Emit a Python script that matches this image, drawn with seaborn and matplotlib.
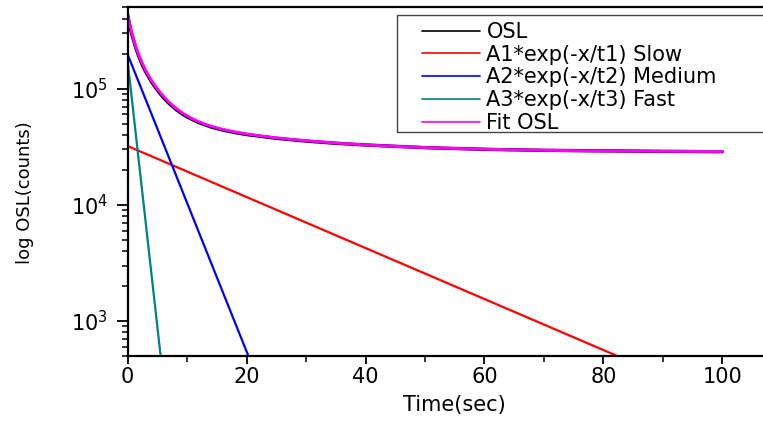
import numpy as np
import pandas as pd
import matplotlib
matplotlib.use("Agg")
import matplotlib.pyplot as plt
from matplotlib.lines import Line2D
from matplotlib.patches import Rectangle
from matplotlib.ticker import MultipleLocator, LogLocator, NullFormatter
import seaborn as sns

# Measured OSL decay curve (time in s, counts)
osl_time = [0, 0.25, 0.5, 0.75, 1, 1.25, 1.5, 2, 2.5, 3, 3.5, 4, 5, 6, 7, 8, 9,
            10, 12, 14, 16, 18, 20, 25, 30, 35, 40, 50, 60, 70, 80, 90, 100]
osl_counts = [430000, 368000, 322000, 286000, 258000, 233000, 213000, 182000,
              158000, 140000, 126000, 114000, 96500, 83500, 74000, 66800, 61200,
              56900, 50800, 46700, 43900, 41800, 40200, 37300, 35300, 33800,
              32700, 31000, 30000, 29400, 29100, 28800, 28600]

# Fitted three-component model: y0 + sum(A_i * exp(-x / t_i))
fit_offset = 28500
comp_names = ["A1*exp(-x/t1) Slow", "A2*exp(-x/t2) Medium", "A3*exp(-x/t3) Fast"]
comp_amplitude = [32000, 196000, 170000]
comp_tau = [19.8, 3.4, 0.95]
comp_colors = ["#ff0000", "#0000ff", "#008080"]

x_ticks = [0, 20, 40, 60, 80, 100]

sns.set_theme(style="ticks")
plt.rcParams["font.family"] = ["DejaVu Sans"]
plt.rcParams["mathtext.fontset"] = "dejavusans"
plt.rcParams["text.color"] = "black"
plt.rcParams["axes.labelcolor"] = "black"
plt.rcParams["xtick.color"] = "black"
plt.rcParams["ytick.color"] = "black"

fig = plt.figure(figsize=(7.63, 4.22), dpi=100)
fig.patch.set_facecolor("white")
ax = fig.add_axes([127.7 / 763, 66 / 422, 654 / 763, 348.7 / 422])
ax.set_facecolor("white")

t = np.linspace(0, 100, 2001)
comp_frames = []
for name, a, tau in zip(comp_names, comp_amplitude, comp_tau):
    comp_frames.append(pd.DataFrame({"time": t, "counts": a * np.exp(-t / tau), "series": name}))
comps = pd.concat(comp_frames, ignore_index=True)
fit = pd.DataFrame({"time": t,
                    "counts": fit_offset + sum(a * np.exp(-t / tau)
                                               for a, tau in zip(comp_amplitude, comp_tau))})
osl = pd.DataFrame({"time": osl_time, "counts": osl_counts})

sns.lineplot(data=comps, x="time", y="counts", hue="series",
             palette=dict(zip(comp_names, comp_colors)), estimator=None, sort=False,
             linewidth=1.6, legend=False, ax=ax)
sns.lineplot(data=osl, x="time", y="counts", color="black", linewidth=2.4,
             estimator=None, legend=False, ax=ax)
sns.lineplot(data=fit, x="time", y="counts", color="#ff00ff", linewidth=2.1,
             estimator=None, legend=False, ax=ax)

ax.set_yscale("log")
ax.set_xlim(0, 110)
ax.set_ylim(500, 5e5)
ax.xaxis.set_major_locator(MultipleLocator(20))
ax.xaxis.set_minor_locator(MultipleLocator(10))
ax.set_xticks(x_ticks)
ax.yaxis.set_major_locator(LogLocator(base=10))
ax.yaxis.set_minor_locator(LogLocator(base=10, subs=np.arange(2, 10)))
ax.yaxis.set_minor_formatter(NullFormatter())

for side in ["left", "bottom", "top", "right"]:
    ax.spines[side].set_visible(True)
    ax.spines[side].set_linewidth(1.6)
    ax.spines[side].set_color("black")

ax.tick_params(axis="both", which="both", direction="out", colors="black",
               top=False, right=False)
ax.tick_params(axis="both", which="major", length=8, width=1.3, labelsize=15)
ax.tick_params(axis="y", which="minor", length=4.5, width=1.1)
ax.tick_params(axis="x", which="minor", length=4, width=1.1)
ax.tick_params(axis="x", which="major", pad=2, length=6)
ax.tick_params(axis="y", which="major", pad=6)

ax.set_xlabel("Time(sec)", fontsize=15, color="black", labelpad=6)
ax.set_ylabel("log OSL(counts)", fontsize=13, color="black")
ax.yaxis.set_label_coords(-0.157, 0.4675)
ax.yaxis.label.set_va("center")

# Legend: lines and labels, boxed by a thin grey frame
handles = [Line2D([], [], color="black", lw=1.2)]
handles += [Line2D([], [], color=c, lw=1.2) for c in comp_colors]
handles += [Line2D([], [], color="#ff00ff", lw=1.2)]
labels = ["OSL"] + comp_names + ["Fit OSL"]
leg_fs = 15
fs_px = leg_fs * 100 / 72
leg = fig.legend(handles, labels, loc="upper left",
                 bbox_to_anchor=(421.7 / 763, 1 - 22 / 422),
                 frameon=False, borderpad=0, borderaxespad=0,
                 fontsize=leg_fs, handlelength=58 / fs_px,
                 handletextpad=6.7 / fs_px, labelspacing=0.13)
for txt in leg.get_texts():
    txt.set_color("black")
fig.patches.append(Rectangle((396.7 / 763, 1 - 131.7 / 422), 0.6, (131.7 - 15) / 422,
                             transform=fig.transFigure, fill=False,
                             edgecolor="#444444", linewidth=1.0, zorder=5))

fig.savefig("out.png", dpi=100)
